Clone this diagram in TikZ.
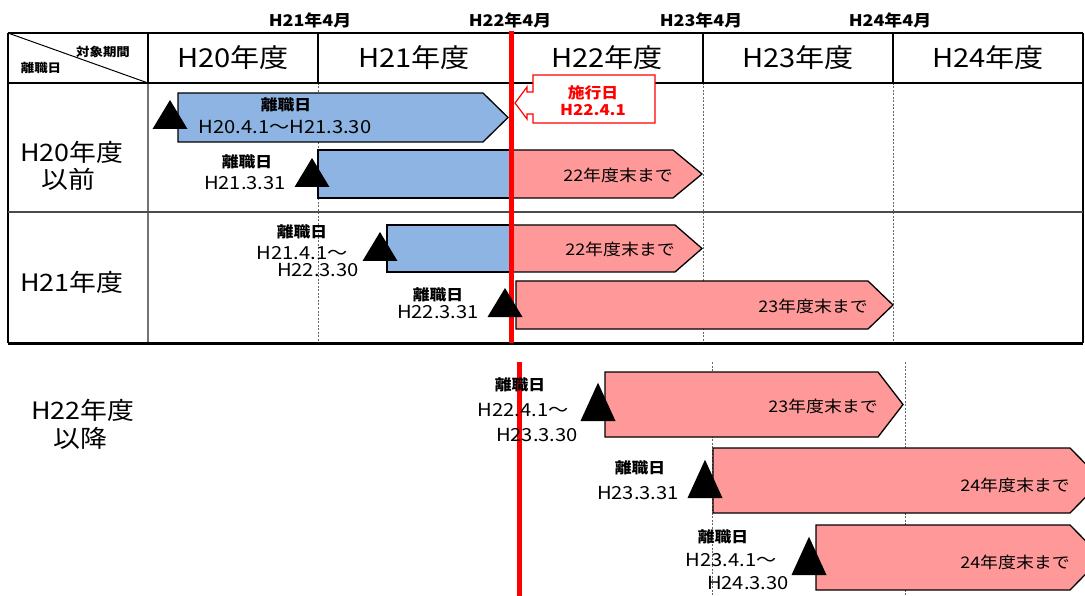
\documentclass[tikz,border=0pt]{standalone}
\usepackage{fontspec}
\setmainfont{Noto Sans CJK JP}[FakeStretch=1.12]
\usetikzlibrary{positioning}
\definecolor{BarBlue}{RGB}{141,180,226}
\definecolor{BarPink}{RGB}{255,153,153}
\definecolor{LineRed}{RGB}{255,0,0}
\tikzset{tablerule/.style ={
        draw=black,
        line width=1.6pt,
    },
    rowrule/.style={
        draw=black!70,
        line width=1.2pt,
    },
    periodline/.style={
        draw=black!60,
        line width=0.9pt,
        dash pattern=on 2pt off 1.5pt,
    },
    bluebar/.style={
        fill=BarBlue,
        draw=black,
        line width=1.3pt,
    },
    pinkbar/.style={
        fill=BarPink,
        draw=black,
        line width=1.3pt,
    },
    enforce/.style={
        draw=LineRed,
        line width=5pt,
    },
    callbox/.style={
        draw=LineRed,
        fill=white,
        line width=1.2pt,
    },
    colhead/.style={
        font=\fontsize{26}{28}\selectfont,
    },
    rowhead/.style={
        font=\fontsize{24}{26}\selectfont,
        inner sep=0pt,
    },
    monthlbl/.style={
        font=\bfseries\fontsize{16}{17}\selectfont,
    },
    cornerlbl/.style={
        font=\bfseries\fontsize{12}{13}\selectfont,
        inner sep=0pt,
    },
    bartxt/.style={
        font=\fontsize{16}{18}\selectfont,
        anchor=east,
        inner sep=2pt,
    },
    leavelbl/.style={
        font=\bfseries\fontsize{15}{16}\selectfont,
        inner sep=0pt,
    },
    datelbl/.style={
        font=\fontsize{18}{20}\selectfont,
        inner sep=0pt,
    },
    calltxt/.style={
        text=LineRed,
        font=\bfseries\fontsize{15}{17}\selectfont,
        inner sep=0pt,
    },
    tri/.pic={
        \fill[black] (-17.5,0) -- (17.5,0) -- (0,-29) -- cycle;
    }}
\begin{document}
\begin{tikzpicture}[x=1pt,y=-1pt]
	\useasboundingbox (0,0) rectangle (1085,596);
	\clip (0,0) rectangle (1085,596);
	% table
	\draw[periodline] (318,83) -- (318,343) (703,83) -- (703,343) (893,83) -- (893,343);
	\draw[periodline] (712,362) -- (712,596) (905,362) -- (905,596);
	\draw[draw=black!55, line width=1.5pt] (148,83) -- (148,343);
	\foreach \x in {148,318,703,893}
		\draw[tablerule] (\x,33) -- (\x,83);
	\draw[tablerule] (8,33) -- (1083,33) (8,83) -- (1083,83) (8,33) -- (8,343) (1083,33) -- (1083,343);
	\draw[rowrule] (8,212) -- (1083,212);
	\draw[tablerule, line width=3pt] (8,343) -- (1083,343);
	\draw[line width=1pt] (8,33) -- (148,83);
	% bars
	\draw[bluebar] (178,93) -- (483,93) -- (508,117.5) -- (483,142) -- (178,142) -- cycle;
	\draw[pinkbar] (318,150) -- (673,150) -- (702,174) -- (673,198) -- (318,198) -- cycle;
	\draw[bluebar] (318,150) rectangle (511,198);
	\draw[pinkbar] (387,225) -- (675,225) -- (702,248.5) -- (675,272) -- (387,272) -- cycle;
	\draw[bluebar] (387,225) rectangle (511,272);
	\draw[pinkbar] (516,281) -- (868,281) -- (893,305) -- (868,329) -- (516,329) -- cycle;
	\draw[pinkbar] (605,372) -- (878,372) -- (903,404.5) -- (878,437) -- (605,437) -- cycle;
	\draw[pinkbar] (713,448) -- (1070,448) -- (1102,480.5) -- (1070,513) -- (713,513) -- cycle;
	\draw[pinkbar] (816,525) -- (1070,525) -- (1102,557.5) -- (1070,590) -- (816,590) -- cycle;
	% effective date
	\draw[enforce] (511,31) -- (511,343);
	\draw[enforce] (519,362) -- (519,596);
	\draw[callbox] (533,75) -- (655,75) -- (655,123) -- (533,123) -- (533,114) -- (527,114) -- (527,119)
		-- (515,103) -- (527,87) -- (527,92) -- (533,92) -- cycle;
	\node[calltxt] (sekou) at (593,93) {施行日};
	\node[calltxt] (sekoudate) at (593,110) {H22.4.1};
	% marks
	\pic at (170,129) {tri};
	\pic at (312,187) {tri};
	\pic at (380,261) {tri};
	\pic at (505,317) {tri};
	\pic[yscale=1.32] at (598,421) {tri};
	\pic[yscale=1.32] at (705,498) {tri};
	\pic[yscale=1.32] at (809,575) {tri};
	% headings
	\node[monthlbl] (m21) at (310,20) {H21年4月};
	\node[monthlbl] (m22) at (510,20) {H22年4月};
	\node[monthlbl] (m23) at (701,20) {H23年4月};
	\node[monthlbl] (m24) at (890,20) {H24年4月};
	\node[cornerlbl] (kikan) at (103,52) {対象期間};
	\node[cornerlbl] (rishoku) at (41,68) {離職日};
	\node[colhead] (y20) at (233,58) {H20年度};
	\node[colhead] (y21) at (414,58) {H21年度};
	\node[colhead] (y22) at (607,58) {H22年度};
	\node[colhead] (y23) at (798,58) {H23年度};
	\node[colhead] (y24) at (988,58) {H24年度};
	\node[rowhead] (r20) at (72,152) {H20年度};
	\node[rowhead] (r20b) at (68,179) {以前};
	\node[rowhead] (r21) at (72,282) {H21年度};
	\node[rowhead] (r22) at (83,410) {H22年度};
	\node[rowhead] (r22b) at (80,438) {以降};
	% bar texts
	\node[bartxt] (endB) at (675,175) {22年度末まで};
	\node[bartxt] (endC) at (677,249) {22年度末まで};
	\node[bartxt] (endD) at (870,306) {23年度末まで};
	\node[bartxt] (endE) at (880,406) {23年度末まで};
	\node[bartxt] (endF) at (1072,485) {24年度末まで};
	\node[bartxt] (endG) at (1072,562) {24年度末まで};
	% leaving dates
	\node[leavelbl] (leaveA) at (286,105) {離職日};
	\node[datelbl] (dateA) at (285,127) {H20.4.1～H21.3.30};
	\node[leavelbl] (leaveB) at (247,162) {離職日};
	\node[datelbl] (dateB) at (245,183) {H21.3.31};
	\node[leavelbl] (leaveC) at (302,232) {離職日};
	\node[datelbl] (dateC) at (302,253) {H21.4.1～};
	\node[datelbl] (dateCb) at (318,270) {H22.3.30};
	\node[leavelbl] (leaveD) at (438,295) {離職日};
	\node[datelbl] (dateD) at (438,312) {H22.3.31};
	\node[leavelbl] (leaveE) at (520,385) {離職日};
	\node[datelbl] (dateE) at (523,410) {H22.4.1～};
	\node[datelbl] (dateEb) at (537,435) {H23.3.30};
	\node[leavelbl] (leaveF) at (640,468) {離職日};
	\node[datelbl] (dateF) at (638,493) {H23.3.31};
	\node[leavelbl] (leaveG) at (723,537) {離職日};
	\node[datelbl] (dateG) at (731,560) {H23.4.1～};
	\node[datelbl] (dateGb) at (748,583) {H24.3.30};
\end{tikzpicture}
\end{document}
